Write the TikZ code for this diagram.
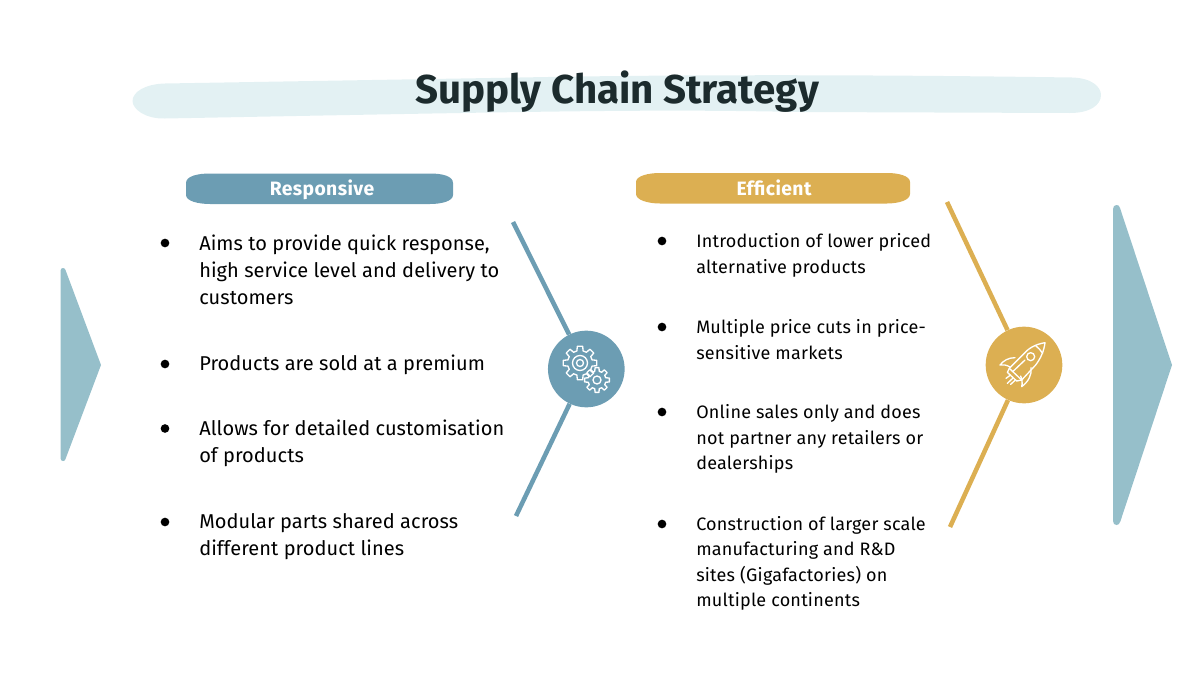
\documentclass[tikz,border=0pt]{standalone}
\usepackage{fontspec}
\setmainfont{Fira Sans}
\definecolor{blobc}{HTML}{E3F1F3}
\definecolor{bluec}{HTML}{6C9DB3}
\definecolor{goldc}{HTML}{DCAF52}
\definecolor{arrowc}{HTML}{96BFCA}
\definecolor{titlec}{HTML}{1C2B2D}
\newcommand{\gearshape}[5]{% cx cy outer inner teeth
  \pgfmathsetmacro{\st}{360/#5}
  \draw[iconline] ({#1+#4*cos(-0.32*\st)},{#2+#4*sin(-0.32*\st)})
  \foreach \k in {1,...,#5}{
    -- ({#1+#3*cos((\k-1)*\st-0.2*\st)},{#2+#3*sin((\k-1)*\st-0.2*\st)})
    -- ({#1+#3*cos((\k-1)*\st+0.2*\st)},{#2+#3*sin((\k-1)*\st+0.2*\st)})
    -- ({#1+#4*cos((\k-1)*\st+0.32*\st)},{#2+#4*sin((\k-1)*\st+0.32*\st)})
    -- ({#1+#4*cos(\k*\st-0.32*\st)},{#2+#4*sin(\k*\st-0.32*\st)})
  } -- cycle;
}
\tikzset{
  iconline/.style={draw=white,line width=1pt,line join=round,line cap=round},
  ltext/.style={anchor=north west,inner sep=0pt,align=left,text=black,
    font=\fontsize{15}{20.25}\selectfont\addfontfeatures{LetterSpace=0.3}},
  rtext/.style={anchor=north west,inner sep=0pt,align=left,text=black,
    font=\fontsize{13.5}{19.1}\selectfont\addfontfeatures{LetterSpace=1.25}},
  dot/.style={circle,fill=black,inner sep=0pt,minimum size=6.5pt},
  pilltext/.style={text=white,inner sep=0pt,font=\fontsize{14.5}{17}\selectfont\bfseries\addfontfeatures{LetterSpace=2}},
  hub/.style={circle,inner sep=0pt,minimum size=57.5pt},
  spoke/.style={line width=3.4pt}
}
\begin{document}
\begin{tikzpicture}[x=0.75pt,y=-0.75pt]
\useasboundingbox (0,0) rectangle (1200,675);
% title brush
\fill[blobc] (165,83.5) -- (520,77.5) .. controls (700,74) and (900,75) .. (1072,77.5)
  .. controls (1092,78) and (1101,87) .. (1101,95) .. controls (1101,105) and (1090,113) .. (1070,113)
  -- (800,112) .. controls (650,109) and (560,111) .. (165,118.5)
  .. controls (145,119) and (132.5,109) .. (132.5,101) .. controls (132.5,92) and (145,84) .. (165,83.5) -- cycle;
\node[inner sep=0pt,text=titlec,font=\fontsize{30.2}{36}\selectfont\bfseries] (title) at (617,92) {Supply Chain Strategy};
% pills
\fill[bluec] (186,183) .. controls (186,176) and (198,173.5) .. (210,173.5) -- (430,173.5)
  .. controls (442,173.5) and (453,176) .. (453,183) -- (453,195) .. controls (453,201) and (442,204) .. (430,204)
  -- (210,204) .. controls (198,204) and (186,201) .. (186,195) -- cycle;
\node[pilltext] (resp) at (322,189.5) {Responsive};
\fill[goldc] (636,182) .. controls (636,176) and (648,173) .. (660,173) -- (887,173)
  .. controls (899,173) and (910,176) .. (910,182) -- (910,194) .. controls (910,200) and (899,203.5) .. (887,203.5)
  -- (660,203.5) .. controls (648,203.5) and (636,200) .. (636,194) -- cycle;
\node[pilltext] (eff) at (774,187.5) {Efficient};
% side arrows
\fill[arrowc] (60.5,271) .. controls (60.5,269) and (61.5,268) .. (63,268) .. controls (64.5,268) and (65,269) .. (65.5,270)
  -- (101,365) -- (65.5,459) .. controls (65,460.5) and (64.5,461) .. (63,461) .. controls (61.5,461) and (60.5,460) .. (60.5,458) -- cycle;
\fill[arrowc] (1113,209) .. controls (1113,206.5) and (1114.5,205) .. (1116.5,205) .. controls (1118.5,205) and (1119.5,206) .. (1120,208)
  -- (1172,365) -- (1120.5,521) .. controls (1119.5,524) and (1118.5,525) .. (1116.5,525) .. controls (1114.5,525) and (1113,523.5) .. (1113,521) -- cycle;
% hubs and spokes
\node[hub,fill=bluec] (hubA) at (586.3,369) {};
\node[hub,fill=goldc] (hubB) at (1024,365) {};
\coordinate (a1) at (513,222);
\coordinate (a2) at (516,516);
\coordinate (b1) at (947,202);
\coordinate (b2) at (950,527);
\draw[spoke,bluec] (a1) -- (hubA);
\draw[spoke,bluec] (a2) -- (hubA);
\draw[spoke,goldc] (b1) -- (hubB);
\draw[spoke,goldc] (b2) -- (hubB);
% gears
\gearshape{580}{363}{17}{12.5}{8}
\draw[iconline] (580,363) circle (7.5) (580,363) circle (3.5);
\gearshape{597}{380}{12.5}{9}{8}
\draw[iconline] (597,380) circle (4);
% rocket
\begin{scope}[shift={(970,315)},x=0.25pt,y=-0.25pt]
\draw[iconline] (225,83) .. controls (195,88) and (175,100) .. (160,118) -- (118,160) -- (155,195) -- (197,150)
  .. controls (212,130) and (222,108) .. (225,83) -- cycle;
\draw[iconline] (197,92) .. controls (205,98) and (212,106) .. (218,115);
\draw[iconline] (182,125) circle (12);
\draw[iconline] (135,128) .. controls (115,128) and (100,137) .. (90,150) .. controls (100,148) and (110,150) .. (120,156);
\draw[iconline] (183,158) .. controls (186,180) and (175,200) .. (155,215) .. controls (158,205) and (156,192) .. (152,183);
\draw[iconline] (128,170) -- (165,135);
\draw[iconline] (118,160) -- (112,172) -- (140,198) -- (155,195);
\draw[iconline] (108,190) -- (122,180);
\draw[iconline] (112,205) -- (128,190);
\draw[iconline] (122,208) -- (134,197);
\end{scope}
% bullets left
\node[dot] (l1) at (165,243) {};
\node[dot] (l2) at (165,364) {};
\node[dot] (l3) at (165,428.5) {};
\node[dot] (l4) at (165,522) {};
\node[ltext] (lt1) at (199,231) {\strut Aims to provide quick response,\\high service level and delivery to\\customers};
\node[ltext] (lt2) at (199,351) {\strut Products are sold at a premium};
\node[ltext] (lt3) at (199,416) {\strut Allows for detailed customisation\\of products};
\node[ltext] (lt4) at (199,509) {\strut Modular parts shared across\\different product lines};
% bullets right
\node[dot] (r1) at (662,241) {};
\node[dot] (r2) at (662,327) {};
\node[dot] (r3) at (662,412) {};
\node[dot] (r4) at (662,524) {};
\node[rtext] (rt1) at (696,229.5) {\strut Introduction of lower priced\\alternative products};
\node[rtext] (rt2) at (696,315.5) {\strut Multiple price cuts in price-\\sensitive markets};
\node[rtext] (rt3) at (696,400.5) {\strut Online sales only and does\\not partner any retailers or\\dealerships};
\node[rtext] (rt4) at (696,512) {\strut Construction of larger scale\\manufacturing and R\&D\\sites (Gigafactories) on\\multiple continents};
\end{tikzpicture}
\end{document}
